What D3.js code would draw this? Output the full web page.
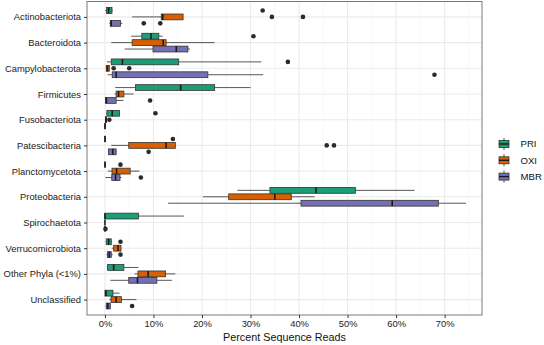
<!DOCTYPE html>
<html>
<head>
<meta charset="utf-8">
<script src="https://cdn.jsdelivr.net/npm/d3@7"></script>
<style>
  html, body { margin: 0; padding: 0; background: #fff; }
  svg { display: block; }
  text { font-family: "Liberation Sans", Arial, sans-serif; }
</style>
</head>
<body>
<svg id="chart" width="544" height="345"></svg>
<script>
// ---------- data ----------
const categories = ["Actinobacteriota","Bacteroidota","Campylobacterota","Firmicutes","Fusobacteriota",
  "Patescibacteria","Planctomycetota","Proteobacteria","Spirochaetota","Verrucomicrobiota",
  "Other Phyla (<1%)","Unclassified"];
const groups = ["PRI","OXI","MBR"];
const groupColors = ["#1b9e77","#d95f02","#7570b3"];

// [lower whisker, Q1, median, Q3, upper whisker] per category
const priStats = [
  [0.05,0.33,0.75,1.45,1.6],
  [5.4,7.6,9.5,11.1,11.9],
  [0.4,1.3,3.6,15.2,32.2],
  [2.1,6.3,15.6,22.6,30.0],
  [0.2,0.4,1.5,3.0,3.0],
  [0,0,0,0.05,0.1],
  [0,0,0,0.05,0.1],
  [27.3,34.0,43.5,51.6,63.8],
  [0,0,0,6.9,16.3],
  [0.1,0.27,0.75,1.3,1.5],
  [0.4,0.55,1.8,3.9,6.9],
  [0,0,0.2,1.65,3.0]
];
const oxiStats = [
  [5.6,11.6,11.9,16.1,16.1],
  [1.3,5.6,12.0,12.6,22.6],
  [0.2,0.27,0.5,0.9,1.0],
  [2.0,2.3,2.8,3.9,5.9],
  [0,0.1,0.2,0.3,0.5],
  [1.3,4.9,12.6,14.5,14.5],
  [0.6,1.45,2.4,5.2,7.1],
  [20.2,25.5,35.0,38.4,43.2],
  [0,0,0,0,0],
  [1.4,1.8,2.7,3.3,3.4],
  [6.1,6.8,8.9,12.5,14.5],
  [0.9,1.25,2.3,3.4,6.5]
];
const mbrStats = [
  [0.9,1.1,1.3,3.2,3.6],
  [4.05,9.9,14.7,17.1,17.5],
  [0.55,1.5,2.3,21.2,32.6],
  [0.05,0.1,0.3,2.3,3.8],
  [0,0,0,0.05,0.1],
  [0.6,0.75,1.6,2.3,2.4],
  [0.1,1.4,2.2,3.1,3.4],
  [13.0,40.4,59.2,68.7,74.4],
  [0,0,0,0,0],
  [0.3,0.5,0.9,1.3,1.6],
  [1.1,4.9,6.7,10.7,13.8],
  [0.1,0.27,0.6,1.1,1.2]
];
const priOutliers = [[32.5],[30.6],[37.7],[],[10.4],[14.0],[3.2],[],[],[3.2],[],[]];
const oxiOutliers = [[34.4,40.8],[],[1.8,5.0],[],[0.9],[45.7,47.2],[],[],[],[],[],[]];
const mbrOutliers = [[8.0,11.4],[],[67.9],[9.3],[],[9.0],[7.4],[],[0.1],[3.2],[],[5.6]];

const xTickValues = [0,10,20,30,40,50,60,70];
const xMinorValues = [5,15,25,35,45,55,65,75];
const xDomain = [-3.7, 77.7];
const xTitle = "Percent Sequence Reads";

// ---------- layout ----------
const W = 544, H = 345;
const panel = {left: 87, right: 482, top: 1.5, bottom: 315};
const statsByGroup = [priStats, oxiStats, mbrStats];
const outByGroup = [priOutliers, oxiOutliers, mbrOutliers];

const svg = d3.select("#chart");
svg.append("rect").attr("width", W).attr("height", H).attr("fill", "#fff");

const x = d3.scaleLinear().domain(xDomain).range([panel.left, panel.right]);
const y = d3.scalePoint().domain(categories).range([panel.top, panel.bottom]).padding(0.6);
const step = y.step();
const dodge = d3.scaleBand().domain(groups).range([-0.375 * step, 0.375 * step]).padding(0);
const bw = dodge.bandwidth();
const color = d3.scaleOrdinal().domain(groups).range(groupColors);

// grid
const grid = svg.append("g");
grid.selectAll(".minor").data(xMinorValues).join("line")
  .attr("x1", d => x(d)).attr("x2", d => x(d))
  .attr("y1", panel.top).attr("y2", panel.bottom)
  .attr("stroke", "#f3f3f3").attr("stroke-width", 0.6);
grid.selectAll(".major").data(xTickValues).join("line")
  .attr("x1", d => x(d)).attr("x2", d => x(d))
  .attr("y1", panel.top).attr("y2", panel.bottom)
  .attr("stroke", "#ebebeb").attr("stroke-width", 1.1);
grid.selectAll(".hmajor").data(categories).join("line")
  .attr("x1", panel.left).attr("x2", panel.right)
  .attr("y1", d => y(d)).attr("y2", d => y(d))
  .attr("stroke", "#ebebeb").attr("stroke-width", 1.1);

// boxes
const marks = svg.append("g");
groups.forEach((g, gi) => {
  categories.forEach((c, ci) => {
    const s = statsByGroup[gi][ci];
    const cy = y(c) + dodge(g) + bw / 2;
    const top = y(c) + dodge(g) + 0.3;
    const h = bw - 0.6;
    // whiskers
    marks.append("line").attr("x1", x(s[0])).attr("x2", x(s[1]))
      .attr("y1", cy).attr("y2", cy).attr("stroke", "#444").attr("stroke-width", 0.9);
    marks.append("line").attr("x1", x(s[3])).attr("x2", x(s[4]))
      .attr("y1", cy).attr("y2", cy).attr("stroke", "#444").attr("stroke-width", 0.9);
    // box
    marks.append("rect").attr("x", x(s[1])).attr("width", Math.max(0, x(s[3]) - x(s[1])))
      .attr("y", top).attr("height", h)
      .attr("fill", color(g)).attr("stroke", "#333").attr("stroke-width", 0.8);
    // median
    marks.append("line").attr("x1", x(s[2])).attr("x2", x(s[2]))
      .attr("y1", top).attr("y2", top + h).attr("stroke", "#1a1a1a").attr("stroke-width", 1.6);
    // outliers
    marks.selectAll(null).data(outByGroup[gi][ci]).enter().append("circle")
      .attr("cx", d => x(d)).attr("cy", cy).attr("r", 2.3).attr("fill", "#2b2b2b");
  });
});

// panel border
svg.append("rect").attr("x", panel.left).attr("y", panel.top)
  .attr("width", panel.right - panel.left).attr("height", panel.bottom - panel.top)
  .attr("fill", "none").attr("stroke", "#7a7a7a").attr("stroke-width", 1);

// axes
const xAxis = d3.axisBottom(x).tickValues(xTickValues).tickFormat(d => d + "%").tickSize(3).tickPadding(2.5);
const gx = svg.append("g").attr("transform", `translate(0,${panel.bottom})`).call(xAxis);
gx.select(".domain").remove();
gx.selectAll(".tick line").attr("stroke", "#333");
gx.selectAll(".tick text").attr("fill", "#222").attr("font-size", 9.4)
  .attr("font-family", "Liberation Sans, Arial, sans-serif");

const yAxis = d3.axisLeft(y).tickSize(3).tickPadding(3);
const gy = svg.append("g").attr("transform", `translate(${panel.left},0)`).call(yAxis);
gy.select(".domain").remove();
gy.selectAll(".tick line").attr("stroke", "#333");
gy.selectAll(".tick text").attr("fill", "#222").attr("font-size", 9.4)
  .attr("font-family", "Liberation Sans, Arial, sans-serif");

svg.append("text").attr("x", (panel.left + panel.right) / 2).attr("y", 341)
  .attr("text-anchor", "middle").attr("font-size", 10.8).attr("fill", "#111")
  .text(xTitle);

// legend
const legend = svg.append("g").attr("transform", "translate(499,144)");
groups.forEach((g, i) => {
  const ly = i * 16.3;
  const lg = legend.append("g").attr("transform", `translate(0,${ly})`);
  lg.append("line").attr("x1", 5).attr("x2", 5).attr("y1", -6).attr("y2", 6)
    .attr("stroke", "#333").attr("stroke-width", 0.9);
  lg.append("rect").attr("x", 0).attr("y", -3.5).attr("width", 10).attr("height", 7)
    .attr("fill", color(g)).attr("stroke", "#333").attr("stroke-width", 0.8);
  lg.append("line").attr("x1", 0).attr("x2", 10).attr("y1", 0).attr("y2", 0)
    .attr("stroke", "#1a1a1a").attr("stroke-width", 1.4);
  lg.append("text").attr("x", 21.5).attr("y", 0).attr("dy", "0.35em")
    .attr("font-size", 9.6).attr("fill", "#111").text(g);
});
</script>
</body>
</html>
